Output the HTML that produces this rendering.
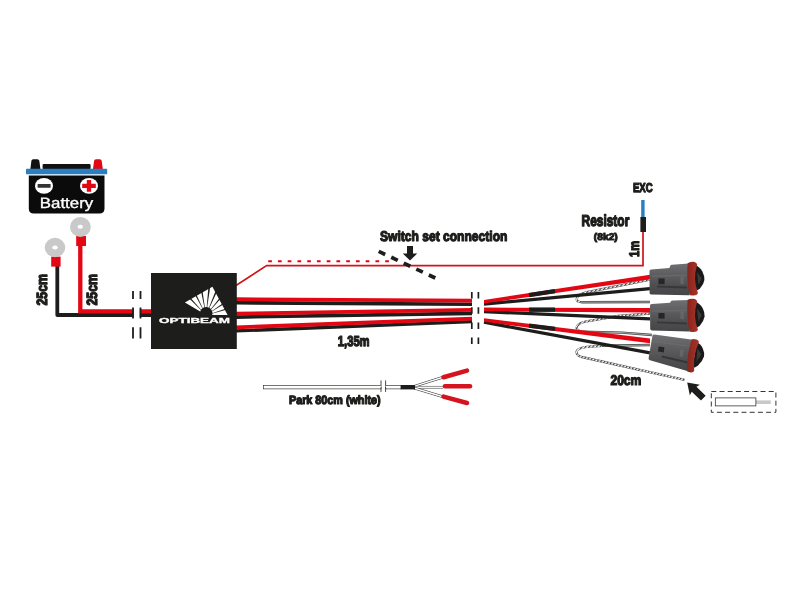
<!DOCTYPE html>
<html lang="en">
<head>
<meta charset="utf-8">
<title>Optibeam wiring harness</title>
<style>
html,body{margin:0;padding:0;background:#fff;}
body{width:800px;height:600px;overflow:hidden;}
svg{display:block;will-change:transform;}
text{text-rendering:geometricPrecision;}
.imp{font-family:"Liberation Sans",sans-serif;font-weight:bold;fill:#1d1d1b;stroke:#1d1d1b;stroke-linejoin:round;}
</style>
</head>
<body>
<svg width="800" height="600" viewBox="0 0 800 600">
<rect width="800" height="600" fill="#ffffff"/>

<!-- ===== Battery ===== -->
<g id="battery">
  <path d="M30.4 169 L31.4 160.8 Q31.6 159.3 33.2 159.3 L37.4 159.3 Q39 159.3 39.3 160.8 L40.4 169 Z" fill="#111"/>
  <path d="M93 169 L94.1 160.8 Q94.3 159.3 96 159.3 L99.8 159.3 Q101.4 159.3 101.7 160.8 L102.8 169 Z" fill="#e30613"/>
  <rect x="42.6" y="163.9" width="48" height="5.2" rx="1.2" fill="#111"/>
  <path d="M28.8 175.4 H104.5 V208.4 Q104.4 213.4 99.4 213.4 H33.8 Q28.8 213.4 28.8 208.4 Z" fill="#0b0b0b"/>
  <rect x="26" y="168.8" width="81.2" height="5.5" rx="0.9" fill="#2a7fc1"/>
  <ellipse cx="44" cy="185.9" rx="9" ry="7.9" fill="#fff"/>
  <rect x="37.6" y="184" width="13" height="3.8" rx="0.5" fill="#333"/>
  <ellipse cx="89" cy="185.9" rx="9" ry="7.9" fill="#fff"/>
  <path d="M86.8 180 h4.4 v3.7 h4.6 v4.4 h-4.6 v3.7 h-4.4 v-3.7 h-4.6 v-4.4 h4.6 z" fill="#e30613"/>
  <text x="39.8" y="208" font-family="'Liberation Sans',sans-serif" font-size="15" fill="#fff" stroke="#fff" stroke-width="0.35" textLength="53.4" lengthAdjust="spacingAndGlyphs">Battery</text>
</g>

<!-- ===== Battery leads ===== -->
<g id="leads">
  <!-- black lead -->
  <path d="M57.3 262 V315 H151" fill="none" stroke="#1d1d1b" stroke-width="3.8" stroke-linejoin="round"/>
  <!-- red lead -->
  <path d="M80.3 240 V311.4 H151" fill="none" stroke="#e30613" stroke-width="4.3" stroke-linejoin="miter"/>
  <!-- break gap -->
  <rect x="133.6" y="307" width="6.2" height="11" fill="#fff"/>
  <!-- ring terminals -->
  <rect x="76.2" y="236" width="9.8" height="10" fill="#e30613"/>
  <ellipse cx="80.4" cy="227" rx="10.4" ry="9.9" fill="#c9c9c9"/>
  <ellipse cx="80.2" cy="226.8" rx="2.7" ry="2" fill="#fff"/>
  <rect x="51.2" y="256.6" width="9.4" height="10" fill="#e30613"/>
  <ellipse cx="55" cy="247.5" rx="10.3" ry="9.7" fill="#c9c9c9"/>
  <ellipse cx="55" cy="247.5" rx="2.7" ry="2" fill="#fff"/>
  <!-- break marks -->
  <path d="M133 291 V338.6 M140.5 291 V338.6" fill="none" stroke="#1d1d1b" stroke-width="1.8" stroke-dasharray="8 8.6 11 8.6 12 0"/>
  <text class="imp" transform="translate(47.2 305.5) rotate(-90)" font-size="14.8" stroke-width="1.3" textLength="31.6" lengthAdjust="spacingAndGlyphs">25cm</text>
  <text class="imp" transform="translate(97 305.5) rotate(-90)" font-size="14.8" stroke-width="1.3" textLength="31.6" lengthAdjust="spacingAndGlyphs">25cm</text>
</g>

<!-- ===== thin red switch wire ===== -->
<g id="switchwire">
  <path d="M236 285.5 L266.6 265.6 H643 V231" fill="none" stroke="#d0131d" stroke-width="1.7"/>
  <path d="M268.2 261.3 H389" fill="none" stroke="#e30613" stroke-width="2.1" stroke-dasharray="3.7 6.05"/>
  <path d="M378.7 251.4 L435.3 278" fill="none" stroke="#1d1d1b" stroke-width="3.7" stroke-dasharray="7.2 6.65"/>
  <path d="M407 246 H413 V253.6 H417.2 L410 260.6 L402.8 253.6 H407 Z" fill="#1d1d1b"/>
  <text class="imp" x="380" y="241.4" font-size="14" stroke-width="1.2" textLength="127.4" lengthAdjust="spacingAndGlyphs">Switch set connection</text>
</g>

<!-- ===== main harness ===== -->
<g id="harness">
  <!-- pair 1 -->
  <path d="M236 302.8 L472 304.2" stroke="#1d1d1b" stroke-width="3.6" fill="none"/>
  <path d="M236 299.2 L472 300.6" stroke="#e30613" stroke-width="3.8" fill="none"/>
  <!-- pair 2 -->
  <path d="M236 317.1 L472 313.4" stroke="#1d1d1b" stroke-width="3.6" fill="none"/>
  <path d="M236 313.6 L472 309.9" stroke="#e30613" stroke-width="3.8" fill="none"/>
  <!-- pair 3 -->
  <path d="M236 330.9 L472 321.6" stroke="#1d1d1b" stroke-width="3.4" fill="none"/>
  <path d="M236 327.4 L472 318.6" stroke="#e30613" stroke-width="3.8" fill="none"/>
  <path d="M471.8 292 V344 M478.4 292 V344" fill="none" stroke="#1d1d1b" stroke-width="1.7" stroke-dasharray="6.5 8.7"/>
  <text class="imp" x="337.8" y="346.4" font-size="14.4" stroke-width="1.3" textLength="31.8" lengthAdjust="spacingAndGlyphs">1,35m</text>
</g>

<!-- ===== control box ===== -->
<g id="box">
  <clipPath id="fanclip"><path d="M183 302 L212.4 285 L229 316 H183 Z"/></clipPath>
  <rect x="151" y="273" width="85.8" height="76" fill="#1d1d1b"/>
  <g fill="#fff">
    <path d="M184.9 302.6 L212.4 286.8 L227.6 314.9 H212.2 A6.2 6.2 0 0 0 200.2 311.4 Z"/>
  </g>
  <g fill="#1d1d1b" clip-path="url(#fanclip)">
    <path d="M210.83 313.90 L238.86 306.48 L238.25 304.43 L210.75 313.63 Z"/>
    <path d="M210.25 312.57 L234.98 297.42 L233.81 295.63 L210.10 312.34 Z"/>
    <path d="M209.32 311.46 L228.66 289.85 L227.03 288.48 L209.10 311.28 Z"/>
    <path d="M208.11 310.67 L220.44 284.42 L218.48 283.57 L207.85 310.55 Z"/>
    <path d="M206.72 310.25 L211.01 281.57 L208.88 281.32 L206.44 310.22 Z"/>
    <path d="M205.27 310.25 L201.15 281.55 L199.05 281.92 L204.99 310.30 Z"/>
    <path d="M203.88 310.67 L191.70 284.35 L189.79 285.31 L203.63 310.80 Z"/>
    <path d="M202.67 311.47 L183.46 289.75 L181.90 291.21 L202.47 311.66 Z"/>
  </g>
  <text x="159" y="322.5" font-family="'Liberation Sans',sans-serif" font-weight="bold" font-size="7.3" fill="#fff" stroke="#fff" stroke-width="0.3" textLength="71" lengthAdjust="spacingAndGlyphs">OPTIBEAM</text>
</g>

<!-- ===== park wire ===== -->
<g id="park">
  <rect x="263.3" y="385.4" width="118" height="3.5" fill="#fff" stroke="#1d1d1b" stroke-width="0.6"/>
  <rect x="385.6" y="385.4" width="16" height="3.5" fill="#fff" stroke="#1d1d1b" stroke-width="0.6"/>
  <rect x="381.5" y="384" width="3.8" height="7" fill="#fff"/>
  <path d="M381 380.4 V393 M385.6 380.4 V393" stroke="#1d1d1b" stroke-width="0.8" fill="none" stroke-dasharray="5 1.5"/>
  <g fill="none" stroke-linecap="butt">
    <path d="M414 386.4 L442 377.5" stroke="#2a2a2a" stroke-width="2.5"/>
    <path d="M414 386.4 L442 377.5" stroke="#fff" stroke-width="1.5"/>
    <path d="M414 387.2 H443" stroke="#2a2a2a" stroke-width="2.5"/>
    <path d="M414 387.2 H443" stroke="#fff" stroke-width="1.5"/>
    <path d="M414 388 L442 396.5" stroke="#2a2a2a" stroke-width="2.5"/>
    <path d="M414 388 L442 396.5" stroke="#fff" stroke-width="1.5"/>
  </g>
  <rect x="400.6" y="385" width="14.4" height="4.4" fill="#1d1d1b"/>
  <g stroke="#d4141e" stroke-width="4.6" stroke-linecap="round" fill="none">
    <path d="M443.5 377.2 L467 370.6"/>
    <path d="M445 386.2 H470"/>
    <path d="M443.5 396.6 L467 403"/>
  </g>
  <text class="imp" x="289" y="403.5" font-size="12" stroke-width="1.2" textLength="91.6" lengthAdjust="spacingAndGlyphs">Park 80cm (white)</text>
</g>

<!-- ===== resistor / EXC ===== -->
<g id="resistor">
  <rect x="641.2" y="200" width="3.4" height="18" fill="#2a7fc1"/>
  <rect x="640.4" y="217" width="5.6" height="15" fill="#1d1d1b"/>
  <text class="imp" x="632.9" y="191.5" font-size="12.8" stroke-width="1.25" textLength="19.8" lengthAdjust="spacingAndGlyphs">EXC</text>
  <text class="imp" x="581.5" y="226" font-size="15.8" stroke-width="1.35" textLength="47.8" lengthAdjust="spacingAndGlyphs">Resistor</text>
  <text class="imp" x="593.8" y="239.8" font-size="9.8" stroke-width="1" textLength="24" lengthAdjust="spacingAndGlyphs">(8k2)</text>
  <text class="imp" transform="translate(639.2 257) rotate(-90)" font-size="14" stroke-width="1.2" textLength="16" lengthAdjust="spacingAndGlyphs">1m</text>
</g>

<!-- ===== fan-out wires ===== -->
<g id="fanout" fill="none">
  <!-- twisted wires (behind) -->
  <g stroke="#606060" stroke-width="2.3">
    <path d="M650 279.5 L588 292 Q576.7 294.4 576.7 299 Q576.7 302.2 582 302.2"/>
    <path d="M650 313.5 L618 316 L588 321.2 Q576.6 323.4 576.6 327.6 Q576.6 331.4 583 331.8"/>
    <path d="M602 345.8 L590 346.6 Q576.5 347.6 576.5 352.2 Q576.5 356 584 357.5 L684.5 379.8"/>
  </g>
  <g stroke="url(#twist)" stroke-width="1.7">
    <path d="M650 279.5 L588 292 Q576.7 294.4 576.7 299 Q576.7 302.2 582 302.2"/>
    <path d="M650 313.5 L618 316 L588 321.2 Q576.6 323.4 576.6 327.6 Q576.6 331.4 583 331.8"/>
    <path d="M602 345.8 L590 346.6 Q576.5 347.6 576.5 352.2 Q576.5 356 584 357.5 L684.5 379.8"/>
  </g>
  <g stroke="#454545" stroke-width="2.4">
    <path d="M581.5 302.2 L650 302"/>
    <path d="M582.5 331.8 L622 332.6 L652 335"/>
    <path d="M650 345 L602 345.8"/>
  </g>
  <g stroke="#c0c0c0" stroke-width="0.8">
    <path d="M582 302.2 L650 302"/>
    <path d="M583 331.8 L622 332.6 L652 335"/>
    <path d="M650 345 L602.5 345.8"/>
  </g>

  <!-- pair 1 -->
  <path d="M484 304 L650 288.7" stroke="#1d1d1b" stroke-width="3.3"/>
  <path d="M484 300 L650 274.7 V279.3 L484 303.5 Z" fill="#e30613"/>
  <path d="M529 295.1 L555 291.15" stroke="#1d1d1b" stroke-width="4.3"/>
  <!-- pair 2 -->
  <path d="M484 311.6 L650 318.8" stroke="#1d1d1b" stroke-width="3.3"/>
  <path d="M484 307.6 L650 307.9 V312.5 L484 311.2 Z" fill="#e30613"/>
  <path d="M529 309.55 L555 309.7" stroke="#1d1d1b" stroke-width="4.3"/>
  <!-- pair 3 -->
  <path d="M484 322.2 L650 352.8" stroke="#1d1d1b" stroke-width="3.4"/>
  <path d="M484 318.2 L650 338.6 V343.2 L484 321.8 Z" fill="#e30613"/>
  <path d="M529 325.6 L555 328.9" stroke="#1d1d1b" stroke-width="4.3"/>
</g>

<!-- ===== connectors ===== -->
<defs>
  <pattern id="twist" patternUnits="userSpaceOnUse" width="3" height="3" patternTransform="rotate(35)">
    <rect x="0" y="0" width="3" height="3" fill="#fff"/>
    <rect x="0" y="0" width="1.3" height="3" fill="#3e3e3e"/>
  </pattern>
  <linearGradient id="sg" x1="0" y1="0" x2="1" y2="0">
    <stop offset="0" stop-color="#86251d"/>
    <stop offset="0.6" stop-color="#9c2d23"/>
    <stop offset="1" stop-color="#a8362b"/>
  </linearGradient>
  <linearGradient id="cg" x1="0" y1="0" x2="0" y2="1">
    <stop offset="0" stop-color="#707072"/>
    <stop offset="0.3" stop-color="#606062"/>
    <stop offset="0.7" stop-color="#4e4e50"/>
    <stop offset="1" stop-color="#454547"/>
  </linearGradient>
</defs>
<g id="c1">
  <path d="M695 265.2 Q699.6 266.4 702.4 271.6 Q704.8 276.4 704.4 280 Q703.6 284.6 700 288.6 Q698 290.6 695 291 Z" fill="#1a1a1a"/><path d="M697 272 L701.6 278.6 L698.4 285 Z" fill="#3a3a3a"/>
  <path d="M649.5 271 Q649.5 269.6 651 269.5 L669.4 268 L670.4 265.6 Q670.8 264.8 672 264.7 L689 263.4 V295.2 L651.4 294.6 Q649.6 294.6 649.6 293 Z" fill="url(#cg)"/>
  <path d="M652 275.6 L686 274.4 V276 L652 277 Z" fill="#707070" opacity="0.6"/>
  <path d="M657 285.6 L687 286.6 V288.6 L657 287.4 Z" fill="#333" opacity="0.8"/>
  <rect x="658.4" y="278.4" width="6.2" height="5.8" fill="#262626"/>
  <rect x="680.4" y="276.6" width="3.4" height="7.4" fill="#6c6c6c" opacity="0.7"/>
  <path d="M687.6 263.2 Q689.6 261.6 693 261.7 Q696.6 262 697.2 264.6 Q692.4 279 698 293.2 Q697 295.4 693.6 295.4 L689.4 295.2 Q686.4 279 687.6 263.2 Z" fill="url(#sg)"/>
</g>
<g id="c2">
  <path d="M695 301.8 Q699.6 303 702.6 308 Q705 312.8 704.6 316.4 Q703.8 321 700 325.4 Q698 327.6 695 328 Z" fill="#1a1a1a"/><path d="M697 308.6 L701.8 315 L698.4 321.6 Z" fill="#3a3a3a"/>
  <path d="M650 305.4 Q650 304 651.6 303.9 L670 302.8 L671 301.2 Q671.4 300.6 672.6 300.5 L689 300 V331.6 L652 330.4 Q650.2 330.3 650.2 328.8 Z" fill="url(#cg)"/>
  <path d="M652 310.4 L686 309.6 V311.2 L652 311.8 Z" fill="#707070" opacity="0.6"/>
  <path d="M657 321.4 L687 322.4 V324.4 L657 323.2 Z" fill="#333" opacity="0.8"/>
  <rect x="658.4" y="313" width="6.2" height="5.6" fill="#262626"/>
  <rect x="680.4" y="311.6" width="3.4" height="7.4" fill="#6c6c6c" opacity="0.7"/>
  <path d="M687.6 299.8 Q689.6 298.6 693 298.7 Q696.6 299 697.2 301.4 Q692.4 316 698 330 Q697 332 693.6 332 L689.4 331.8 Q686.4 316 687.6 299.8 Z" fill="url(#sg)"/>
</g>
<g id="c3">
  <path d="M696.6 342.2 Q700.6 343.6 702.8 348.4 Q704.8 353 704 356.4 Q702.4 361.4 698 365.6 Q695.6 367.8 692.4 368 Z" fill="#1a1a1a"/><path d="M697.4 348.4 L701.4 354.4 L696.4 361.6 Z" fill="#3a3a3a"/>
  <path d="M652.4 335.8 Q652.6 334.3 654.2 334.5 L693 339.8 L689 371.6 L650 360.2 Q648.4 359.7 648.6 358.2 Z" fill="url(#cg)"/>
  <path d="M654 340.6 L690 345.4 L689.8 347 L653.8 342.2 Z" fill="#707070" opacity="0.5"/>
  <path d="M662 355.6 L688 361.4 L687.6 363.4 L661.6 357.4 Z" fill="#303030" opacity="0.8"/>
  <path d="M658.6 346.4 L664.4 347.2 L663.8 352.4 L658 351.6 Z" fill="#262626"/>
  <path d="M680.4 349.4 L683.6 349.9 L682.8 357 L679.6 356.4 Z" fill="#6c6c6c" opacity="0.7"/>
  <path d="M691.6 339.4 Q693.6 338.6 696.4 339.4 Q699.2 340.4 698.8 342.6 Q692.6 356 694.2 370.8 Q693.2 372.8 690.8 372.5 L687.2 371.6 Q686.4 355 691.6 339.4 Z" fill="url(#sg)"/>
</g>

<!-- ===== 20cm / arrow / box ===== -->
<g id="end">
  <text class="imp" x="610.4" y="384.6" font-size="14" stroke-width="1.2" textLength="31" lengthAdjust="spacingAndGlyphs">20cm</text>
  <g transform="translate(687.2 382.6) rotate(44)">
    <path d="M0 0 L10.6 -7.2 L9.6 -3.4 H22.4 V3.4 H9.6 L10.6 7.2 Z" fill="#1d1d1b"/>
  </g>
  <rect x="711.3" y="391.5" width="64.6" height="20.8" fill="none" stroke="#1d1d1b" stroke-width="0.9" stroke-dasharray="5 3.2"/>
  <rect x="755.6" y="400.4" width="15.2" height="3.6" fill="#c9c9c9"/>
  <rect x="715.3" y="397.9" width="40.6" height="8" fill="#fff" stroke="#1d1d1b" stroke-width="0.7"/>
</g>
</svg>
</body>
</html>
